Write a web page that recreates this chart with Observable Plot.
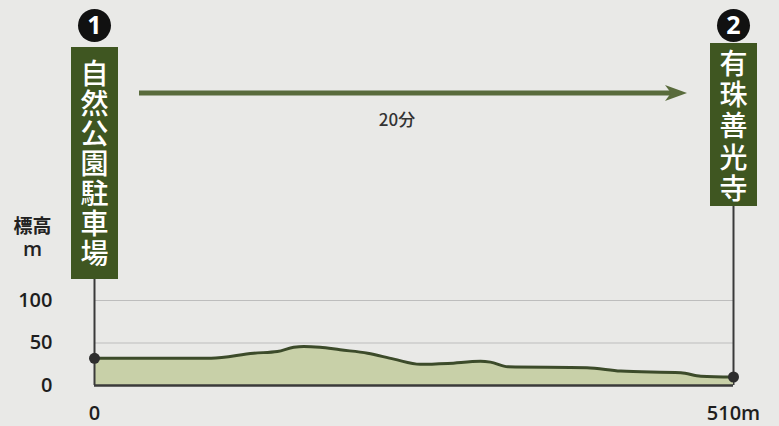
<!DOCTYPE html>
<html><head><meta charset="utf-8">
<script src="https://cdn.jsdelivr.net/npm/d3@7"></script>
<script src="https://cdn.jsdelivr.net/npm/@observablehq/plot@0.6"></script>
<style>
html,body{margin:0;padding:0;background:#e9e9e7;}
#chart{width:779px;height:426px;overflow:hidden;}
</style></head><body><div id="chart"></div>
<script>
// --- data ---
const distance  = [0, 93, 127, 146, 159, 167, 180, 196, 218, 239, 260, 282, 308, 316, 330, 393, 420, 468, 484, 510];
const elevation = [32, 32, 38, 40, 45, 46, 45, 42, 38, 31, 25, 26, 28.5, 27.5, 22, 21, 17, 15, 11, 10];
const stationNum  = ["1", "2"];
const stationName = ["自然公園駐車場", "有珠善光寺"];
const stationDist = [0, 510];
const yTicks = [0, 50, 100];
const xTicks = [0, 510];
const gridLines = [50, 100];
const travelTime = "20分";
const yLabel = ["標高", "m"];

const profile = distance.map((d, i) => ({d, e: elevation[i]}));
const stations = stationDist.map((d, i) => ({d, num: stationNum[i], name: stationName[i], e: elevation[distance.indexOf(d)]}));

const green = "#3f5621";
const arrowColor = "#596b3c";
const font = "'Open Sans','Noto Sans CJK JP',sans-serif";
const jp = "'Noto Sans CJK JP',sans-serif";

function travelArrow(index, scales) {
  const sx = scales.x;
  const x1 = sx(stationDist[0]) + 45, x2 = sx(stationDist[1]) - 46, y = 93;
  const g = d3.create("svg:g");
  g.append("line").attr("x1", x1).attr("x2", x2 - 12).attr("y1", y).attr("y2", y)
    .attr("stroke", arrowColor).attr("stroke-width", 5);
  g.append("path").attr("d", `M${x2},${y}L${x2-22},${y-8}L${x2-16},${y}L${x2-22},${y+8}Z`)
    .attr("fill", arrowColor);
  return g.node();
}

const chart = Plot.plot({
  width: 779, height: 426,
  marginTop: 0, marginLeft: 94, marginRight: 46, marginBottom: 41,
  style: {background: "#e9e9e7", fontFamily: font, fontSize: "20px", fontWeight: 600, color: "#1e1e1e"},
  x: {domain: [0, 510], ticks: xTicks, tickSize: 0, tickPadding: 20,
      tickFormat: d => d === xTicks[xTicks.length - 1] ? d + "m" : String(d), label: null},
  y: {domain: [0, 100], range: [385, 300], ticks: yTicks, tickSize: 0, tickPadding: 42, label: null},
  marks: [
    Plot.ruleY(gridLines, {stroke: "#bdbdbd", strokeWidth: 1}),
    Plot.ruleX(stations.filter((s, i) => i === 1), {x: "d", stroke: "#3a3a3a", strokeWidth: 2, insetTop: 200}),
    Plot.areaY(profile, {x: "d", y: "e", fill: "#c8d0a8", curve: "monotone-x"}),
    Plot.lineY(profile, {x: "d", y: "e", stroke: "#3c4b2a", strokeWidth: 3, curve: "monotone-x"}),
    Plot.ruleY([0], {stroke: "#3a3a3a", strokeWidth: 2.5}),
    Plot.ruleX(stations.filter((s, i) => i === 0), {x: "d", stroke: "#3a3a3a", strokeWidth: 2, insetTop: 200}),
    Plot.dot(stations, {x: "d", y: "e", r: 5.5, fill: "#2e2e2e"}),
    // station boxes
    Plot.ruleX(stations.filter((s, i) => i === 0), {x: "d", stroke: green, strokeWidth: 47, insetTop: 47, insetBottom: 106}),
    Plot.ruleX(stations.filter((s, i) => i === 1), {x: "d", stroke: green, strokeWidth: 47, insetTop: 43, insetBottom: 179}),
    Plot.text(stations.filter((s, i) => i === 0), {x: "d", text: s => [...s.name].join("\n"), frameAnchor: "top", dy: 164,
      lineAnchor: "middle", lineHeight: 1.07, fontSize: 28, fontWeight: 500, fill: "white", fontFamily: jp}),
    Plot.text(stations.filter((s, i) => i === 1), {x: "d", text: s => [...s.name].join("\n"), frameAnchor: "top", dy: 126,
      lineAnchor: "middle", lineHeight: 1.11, fontSize: 28, fontWeight: 500, fill: "white", fontFamily: jp}),
    // numbered circles
    Plot.dot(stations, {x: "d", frameAnchor: "top", dy: 25, r: 16.5, fill: "#111"}),
    Plot.text(stations, {x: "d", text: "num", frameAnchor: "top", dy: 25, lineAnchor: "middle",
      fontSize: 25, fontWeight: "bold", fill: "white"}),
    travelArrow,
    Plot.text([travelTime], {x: stationDist[0] + (stationDist[1] - stationDist[0]) / 2, frameAnchor: "top", dy: 120, dx: -17,
      lineAnchor: "middle", fontSize: 17, fontWeight: 500, fill: "#333", fontFamily: jp}),
    Plot.text([yLabel[0]], {frameAnchor: "top-left", dx: -62, dy: 226, lineAnchor: "middle", textAnchor: "middle",
      fontSize: 19, fontWeight: "bold", fill: "#222", fontFamily: jp}),
    Plot.text([yLabel[1]], {frameAnchor: "top-left", dx: -62, dy: 249, lineAnchor: "middle", textAnchor: "middle",
      fontSize: 20, fontWeight: 600, fill: "#222", fontFamily: font})
  ]
});
document.getElementById("chart").appendChild(chart);
</script>
</body></html>
